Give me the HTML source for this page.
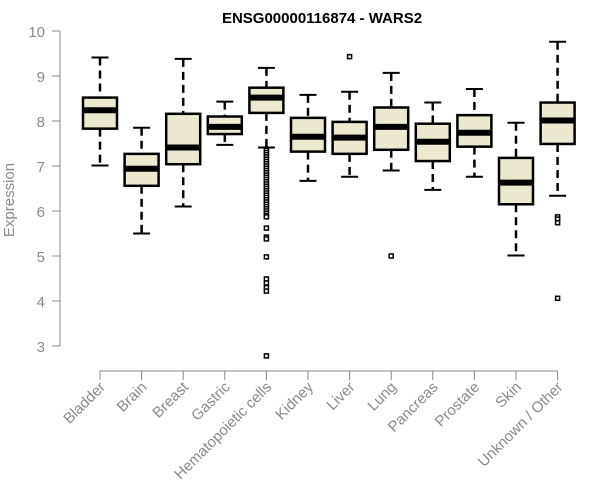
<!DOCTYPE html>
<html><head><meta charset="utf-8"><style>
body{margin:0;background:#fff;}
svg{display:block;font-family:"Liberation Sans",sans-serif;}
</style></head><body>
<svg id="chart" width="600" height="500" viewBox="0 0 600 500" xmlns="http://www.w3.org/2000/svg">
<text x="322" y="23" text-anchor="middle" font-size="15" font-weight="bold" fill="#000">ENSG00000116874 - WARS2</text>
<text transform="translate(14,200) rotate(-90)" text-anchor="middle" font-size="15" fill="#8a8a8a">Expression</text>
<g id="axes"></g>
<g id="boxes"></g>
</svg>
<script>
const categories=["Bladder","Brain","Breast","Gastric","Hematopoietic cells","Kidney","Liver","Lung","Pancreas","Prostate","Skin","Unknown / Other"];
const whiskerLow=[7.01,5.50,6.10,7.47,7.41,6.67,6.76,6.90,6.47,6.76,5.01,6.34];
const q1=[7.83,6.56,7.04,7.71,8.18,7.32,7.27,7.36,7.11,7.43,6.15,7.49];
const medians=[8.24,6.94,7.41,7.87,8.52,7.65,7.63,7.87,7.54,7.74,6.63,8.01];
const q3=[8.52,7.27,8.16,8.10,8.74,8.07,7.98,8.30,7.94,8.13,7.18,8.41];
const whiskerHigh=[9.41,7.85,9.38,8.43,9.18,8.58,8.65,9.07,8.41,8.71,7.96,9.76];
const outliers=[[],[],[],[],[7.35,7.3,7.25,7.2,7.15,7.1,7.05,7.0,6.95,6.9,6.85,6.8,6.75,6.7,6.65,6.6,6.55,6.5,6.45,6.4,6.35,6.3,6.25,6.2,6.15,6.1,6.05,6.0,5.95,5.9,5.87,5.62,5.42,5.38,4.98,4.49,4.4,4.3,4.22,2.78],[],[9.43],[5.0],[],[],[],[5.87,5.82,5.74,4.06]];
const yTicks=[3,4,5,6,7,8,9,10];
const NS="http://www.w3.org/2000/svg";
const y=v=>346-(v-3)*45;
const x=i=>100+i*41.6;
function mk(tag,attrs,parent){const e=document.createElementNS(NS,tag);for(const k in attrs)e.setAttribute(k,attrs[k]);parent.appendChild(e);return e;}
const axes=document.getElementById('axes'),boxes=document.getElementById('boxes');
const ax=mk('line',{x1:60,x2:60,y1:y(3),y2:y(10),stroke:'#888'},axes);


yTicks.forEach(t=>{
 const tk=mk('line',{x1:52,x2:60,y1:y(t),y2:y(t),stroke:'#888'},axes);
 
 
 const tx=mk('text',{x:45,y:y(t)+6,'text-anchor':'end','font-size':15,fill:'#8a8a8a'},axes);
 tx.textContent=t;
 
 
});
const xa=mk('line',{x1:x(0),x2:x(11),y1:371,y2:371,stroke:'#888'},axes);


categories.forEach((c,i)=>{
 const tk=mk('line',{x1:x(i),x2:x(i),y1:371,y2:380,stroke:'#888'},axes);
 
 
 const tx=mk('text',{transform:`translate(${x(i)+6},${388}) rotate(-45)`,'text-anchor':'end','font-size':15,fill:'#8a8a8a'},axes);
 tx.textContent=c;
 
 
 const g=mk('g',{},boxes);
 
 
 const cx=x(i),w=17,cw=8.5;
 mk('line',{x1:cx,x2:cx,y1:y(whiskerHigh[i]),y2:y(q3[i]),stroke:'#000','stroke-width':2.5,'stroke-dasharray':'8,5'},g);
 mk('line',{x1:cx,x2:cx,y1:y(q1[i]),y2:y(whiskerLow[i]),stroke:'#000','stroke-width':2.5,'stroke-dasharray':'8,5'},g);
 mk('line',{x1:cx-cw,x2:cx+cw,y1:y(whiskerHigh[i]),y2:y(whiskerHigh[i]),stroke:'#000','stroke-width':2},g);
 mk('line',{x1:cx-cw,x2:cx+cw,y1:y(whiskerLow[i]),y2:y(whiskerLow[i]),stroke:'#000','stroke-width':2},g);
 mk('rect',{x:cx-w,y:y(q3[i]),width:2*w,height:y(q1[i])-y(q3[i]),fill:'#ede8d0',stroke:'#000','stroke-width':2.5},g);
 mk('line',{x1:cx-w,x2:cx+w,y1:y(medians[i]),y2:y(medians[i]),stroke:'#000','stroke-width':6},g);
 outliers[i].forEach(o=>{
  const p=mk('rect',{x:cx-2,y:y(o)-2,width:4,height:4,fill:'#fff',stroke:'#000','stroke-width':1.5},g);
  
  
 });
});
</script>
</body></html>
